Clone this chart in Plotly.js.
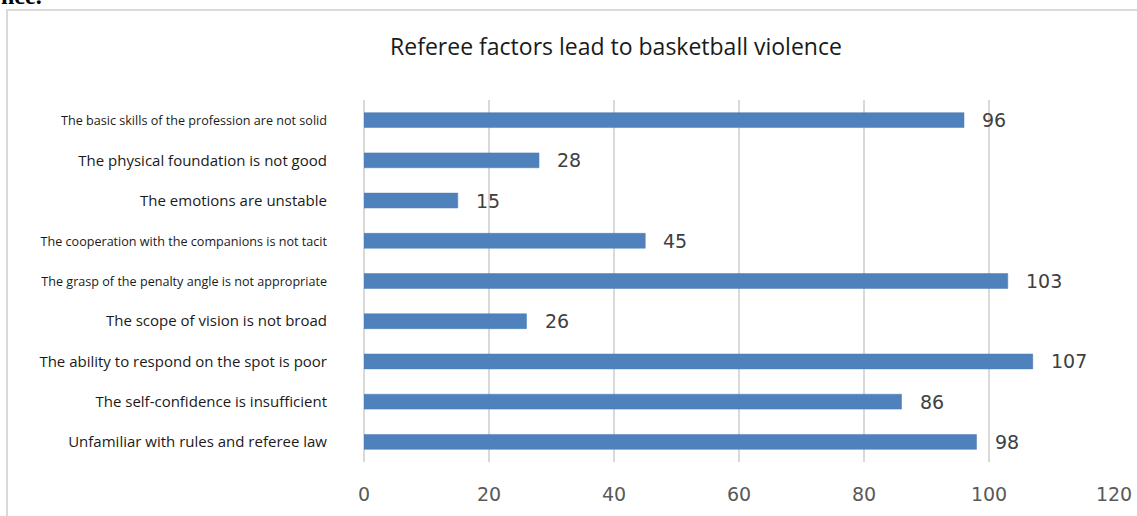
<!DOCTYPE html>
<html>
<head>
<meta charset="utf-8">
<script src="https://cdn.plot.ly/plotly-3.0.1.min.js"></script>
<style>
  html, body { margin: 0; padding: 0; background: #ffffff; }
  #chart { width: 1137px; height: 516px; }
</style>
</head>
<body>
<div id="chart"></div>
<script>
// Data (bottom to top, as drawn on the category axis)
const categories = [
  "Unfamiliar with rules and referee law",
  "The self-confidence is insufficient",
  "The ability to respond on the spot is poor",
  "The scope of vision is not broad",
  "The grasp of the penalty angle is not appropriate",
  "The cooperation with the companions is not tacit",
  "The emotions are unstable",
  "The physical foundation is not good",
  "The basic skills of the profession are not solid"
];
const values = [98, 86, 107, 26, 103, 45, 15, 28, 96];
const xTickValues = [0, 20, 40, 60, 80, 100, 120];
const xTickLabels = ["0", "20", "40", "60", "80", "100", "120"];
const chartTitle = "Referee factors lead to basketball violence";
const fragmentText = "nce.";

// Styling: labels drawn in a smaller font in the reference
const smallLabelNames = [
  "The grasp of the penalty angle is not appropriate",
  "The cooperation with the companions is not tacit",
  "The basic skills of the profession are not solid"
];
const tickText = categories.map(c =>
  smallLabelNames.includes(c)
    ? '<span style="font-size:12.6px">' + c + '</span>'
    : c
);

// Plot-area geometry in pixels (for placing the frame around the figure)
const W = 1137, H = 516;
const mL = 364, mR = 23, mT = 100, mB = 54;
const pw = W - mL - mR, ph = H - mT - mB;
const px = x => (x - mL) / pw;
const py = y => (H - mB - y) / ph;

const trace = {
  type: 'bar',
  orientation: 'h',
  x: values,
  y: categories,
  width: 0.37,
  marker: { color: '#4f81bd', line: { color: '#4a7ab3', width: 0.5 } },
  hoverinfo: 'x+y'
};

const valueAnnotations = values.map((v, i) => ({
  x: v, y: categories[i], xref: 'x', yref: 'y',
  text: String(v), showarrow: false,
  xanchor: 'left', yanchor: 'middle', xshift: 16,
  font: { family: 'DejaVu Sans, Verdana, sans-serif', size: 19, color: '#404040' }
}));

const layout = {
  width: W, height: H,
  margin: { l: mL, r: mR, t: mT, b: mB, pad: 0 },
  paper_bgcolor: '#ffffff',
  plot_bgcolor: '#ffffff',
  showlegend: false,
  title: {
    text: chartTitle,
    xref: 'container', x: 616 / W, xanchor: 'center',
    yref: 'container', y: 1 - 47 / H, yanchor: 'middle',
    font: { family: 'Open Sans, sans-serif', size: 23, color: '#1a1a1a' }
  },
  xaxis: {
    range: [0, 120],
    tickvals: xTickValues,
    ticktext: xTickLabels,
    showgrid: true, gridcolor: '#d9d9d9', gridwidth: 2,
    zeroline: true, zerolinecolor: '#d9d9d9', zerolinewidth: 2,
    showline: false, ticks: '',
    ticklabelstandoff: 19,
    tickfont: { family: 'DejaVu Sans, Verdana, sans-serif', size: 19, color: '#595959' },
    fixedrange: true
  },
  yaxis: {
    type: 'category',
    categoryorder: 'array', categoryarray: categories,
    tickvals: categories,
    ticktext: tickText,
    range: [-0.5, categories.length - 0.5],
    showgrid: false, zeroline: false, showline: false, ticks: '',
    ticklabelstandoff: 36,
    tickfont: { family: 'Open Sans, sans-serif', size: 15, color: '#1a1a1a' },
    fixedrange: true
  },
  shapes: [{
    type: 'rect', xref: 'paper', yref: 'paper',
    x0: px(7), x1: px(W + 20), y0: py(H + 20), y1: py(10),
    line: { color: '#d9d9d9', width: 2 },
    fillcolor: 'rgba(0,0,0,0)', layer: 'below'
  }],
  annotations: valueAnnotations.concat([{
    xref: 'paper', yref: 'paper',
    x: px(-1), y: py(11), xanchor: 'left', yanchor: 'bottom',
    text: '<b>' + fragmentText + '</b>', showarrow: false,
    font: { family: 'Liberation Serif, serif', size: 24, color: '#000000' }
  }])
};

Plotly.newPlot('chart', [trace], layout, { displayModeBar: false, staticPlot: true });
</script>
</body>
</html>
